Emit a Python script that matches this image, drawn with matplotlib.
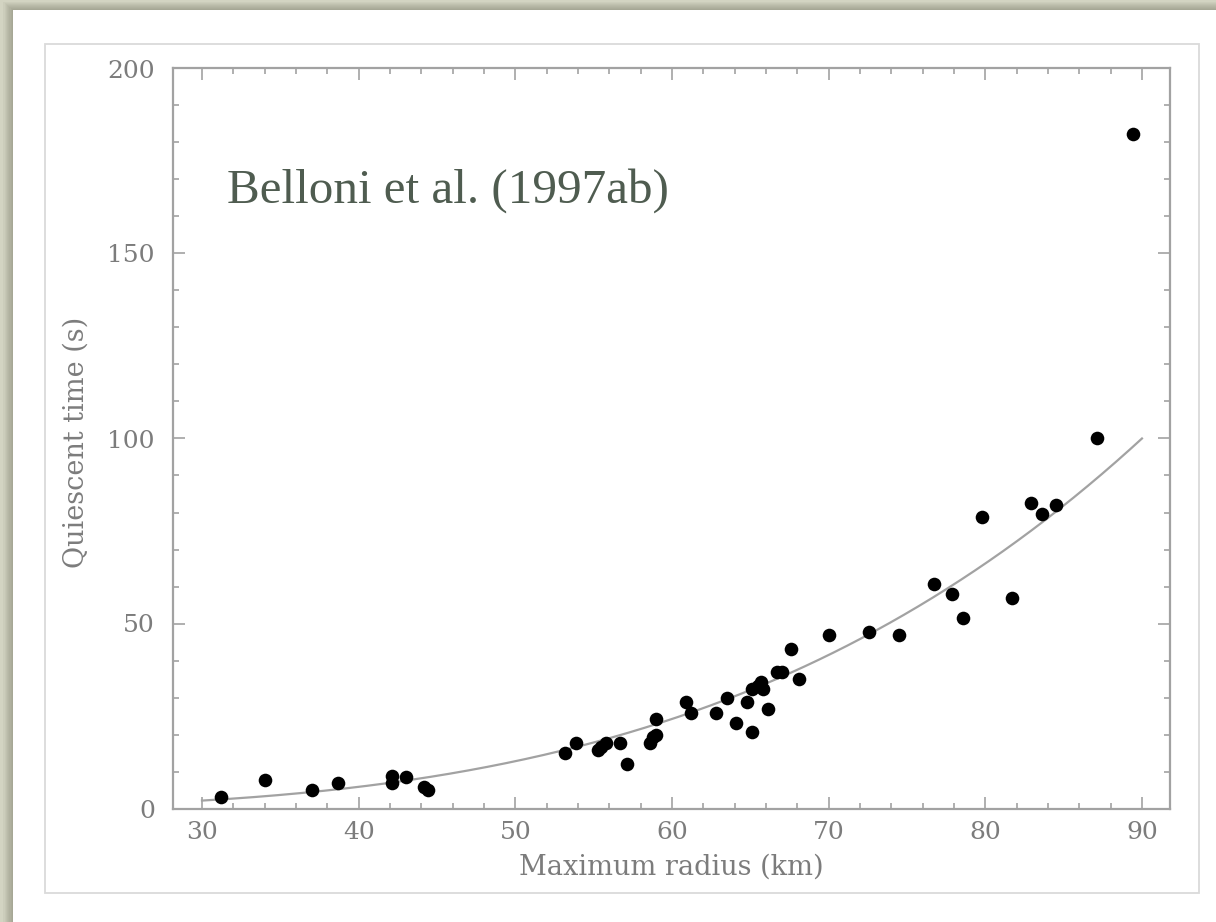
import numpy as np
import matplotlib
matplotlib.use("Agg")
import matplotlib.pyplot as plt
from matplotlib.patches import Rectangle
from matplotlib.ticker import MultipleLocator

# ---- data ----
radius_km = [31.2, 34.0, 37.0, 38.7, 42.1, 42.1, 43.0, 44.2, 44.4, 53.2,
             53.9, 55.3, 55.5, 55.8, 56.7, 57.1, 58.6, 58.8, 59.0, 59.0,
             60.9, 61.2, 62.8, 63.5, 64.1, 64.8, 65.1, 65.1, 65.5, 65.7,
             65.8, 66.1, 66.7, 67.0, 67.6, 68.1, 70.0, 72.6, 74.5, 76.7,
             77.9, 78.6, 79.8, 81.7, 82.9, 83.6, 84.5, 87.1, 89.4]
quiescent_s = [3.0, 7.8, 4.9, 6.8, 8.9, 6.8, 8.6, 5.7, 4.9, 14.9,
               17.8, 15.7, 16.5, 17.6, 17.8, 11.9, 17.8, 19.2, 20.0, 24.1,
               28.9, 25.7, 25.9, 30.0, 23.0, 28.9, 20.8, 32.2, 33.2, 34.1,
               32.2, 27.0, 37.0, 37.0, 43.0, 34.9, 47.0, 47.8, 46.8, 60.8,
               58.1, 51.6, 78.9, 56.8, 82.7, 79.7, 81.9, 100.0, 182.2]
# power-law fit  t = amp * (R / R_ref) ** exponent
fit_amp = 100.0
fit_ref = 90.0
fit_exp = 3.5
fit_range = [30.0, 90.0]

x_ticks = [30, 40, 50, 60, 70, 80, 90]
y_ticks = [0, 50, 100, 150, 200]
x_label = "Maximum radius (km)"
y_label = "Quiescent time (s)"
note = "Belloni et al. (1997ab)"

# ---- figure ----
W, H = 1216, 922
fig = plt.figure(figsize=(W / 100, H / 100), dpi=100)
fig.patch.set_facecolor("#d3d4c2")

def fx(px):
    return px / W

def fy(py):
    return 1 - py / H

# soft shadow of the white panel
for i in range(8, 0, -1):
    fig.add_artist(Rectangle((fx(13 - i * 1.2), 0), 1, fy(10 - i * 1.0),
                             transform=fig.transFigure, facecolor="#5a5a48",
                             edgecolor="none", alpha=0.05, zorder=-5))
fig.add_artist(Rectangle((fx(13), 0), 1, fy(10), transform=fig.transFigure,
                         facecolor="white", edgecolor="none", zorder=-4))
# light frame of the original figure
fig.add_artist(Rectangle((fx(45), fy(893)), fx(1199 - 45), (893 - 44) / H,
                         transform=fig.transFigure, facecolor="none",
                         edgecolor="#dadada", lw=1.3, zorder=-3))

ax = fig.add_axes([fx(173), fy(808.5), fx(1170 - 173), (808.5 - 68.5) / H])
ax.set_zorder(1)
ax.set_facecolor("none")
ax.set_xlim(28.15, 91.79)
ax.set_ylim(0, 200)

xs = np.linspace(fit_range[0], fit_range[1], 400)
ax.plot(xs, fit_amp * (xs / fit_ref) ** fit_exp, color="#a2a2a2", lw=1.6, zorder=2)
ax.plot(radius_km, quiescent_s, "o", color="black", ms=9.8, mec="none",
        zorder=3, clip_on=False)

ax.set_xticks(x_ticks)
ax.set_yticks(y_ticks)
ax.xaxis.set_minor_locator(MultipleLocator(2))
ax.yaxis.set_minor_locator(MultipleLocator(10))

gray = "#a2a2a2"
for s in ax.spines.values():
    s.set_color(gray)
    s.set_linewidth(1.6)
ax.tick_params(which="both", direction="in", top=True, right=True,
               color=gray, width=1.2, labelcolor="#7c7c7c", labelsize=18)
ax.tick_params(which="major", length=8.5)
ax.tick_params(which="minor", length=4.5)
ax.tick_params(axis="x", pad=9)
ax.tick_params(axis="y", pad=13)
for lab in ax.get_xticklabels() + ax.get_yticklabels():
    lab.set_fontfamily("DejaVu Serif")

ax.set_xlabel(x_label, fontsize=19.5, color="#7c7c7c", family="DejaVu Serif",
              va="center")
ax.xaxis.set_label_coords(0.5, (808.5 - 867) / 740)
ax.set_ylabel(y_label, fontsize=19.5, color="#7c7c7c", family="DejaVu Serif",
              va="center", ha="center")
ax.yaxis.set_label_coords((76 - 173) / 997, (808.5 - 442.5) / 740)

t = fig.text(fx(227), fy(203), note, color="#4f5c50", family="Liberation Serif",
             fontsize=34, va="baseline", ha="left", zorder=5)
fig.canvas.draw()
bb = t.get_window_extent()
t.set_fontsize(34 * 443 / bb.width)

fig.savefig("out.png", dpi=100, facecolor=fig.get_facecolor())
